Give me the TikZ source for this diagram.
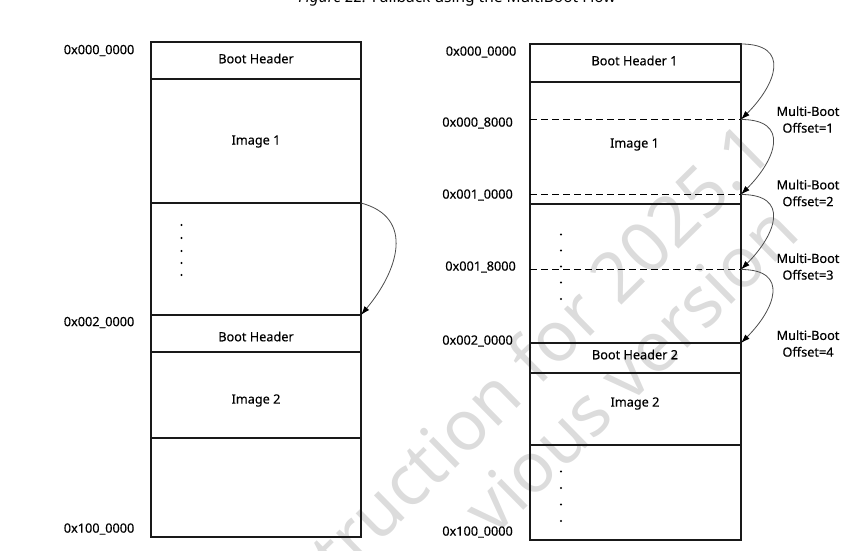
\documentclass[tikz,border=0pt]{standalone}
\usepackage{fontspec}
\setmainfont{Noto Sans}
\newfontfamily\lblfont{Noto Sans}[FakeBold=0.4]
\usetikzlibrary{arrows.meta}
\definecolor{wm}{HTML}{DCDCDC}
\tikzset{
  row/.style={draw=black!90, line width=1.5pt, minimum width=#1, inner sep=0pt, outer sep=0pt, anchor=north west},
  lbl/.style={font=\lblfont\fontsize{12.7}{16.7}\selectfont, inner sep=0pt, align=center},
  addr/.style={lbl, anchor=east},
  jump/.style={draw=black!70, line width=0.8pt, -{Latex[length=9pt,width=6pt,black]}},
  sepline/.style={line width=1.5pt, dash pattern=on 7pt off 4pt},
  wmark/.style={text=wm, font=\fontsize{70}{74}\selectfont, rotate=44.5, inner sep=0pt, anchor=base east}
}
\begin{document}
\begin{tikzpicture}[x=1pt, y=-1pt]
\useasboundingbox (0,0) rectangle (865,551);
% watermark
\node[wmark] (wm1) at (776,154) {truction for 2025.1};
\node[wmark] (wm2) at (802,236) {vious version};
% title (cut off at top)
\node[font=\fontsize{15.5}{18}\selectfont, anchor=base, inner sep=0pt] (title) at (457,3) {\textit{Figure 22:} \textbf{Fallback using the MultiBoot Flow}};

% ---------- left column ----------
\node[row=210pt, minimum height=37pt] (L1) at (151,42) {};
\node[row=210pt, minimum height=124pt] (L2) at (151,79) {};
\node[row=210pt, minimum height=112pt] (L3) at (151,203) {};
\node[row=210pt, minimum height=37pt] (L4) at (151,315) {};
\node[row=210pt, minimum height=86pt] (L5) at (151,352) {};
\node[row=210pt, minimum height=99pt] (L6) at (151,438) {};
\node[lbl] (tL1) at (256,58.5) {Boot Header};
\node[lbl] (tL2) at (256,141.5) {Image 1};
\node[lbl] (tL4) at (256,336.5) {Boot Header};
\node[lbl] (tL5) at (256,400.5) {Image 2};
\foreach \yy in {225,238,251,263,275} \fill (181.5,\yy) circle (1.1pt);
\node[addr] (aL1) at (134.5,50.5) {0x000\_0000};
\node[addr] (aL4) at (134.5,322.5) {0x002\_0000};
\node[addr] (aL6) at (134.5,529) {0x100\_0000};
\draw[jump] (L3.north east) to[out=-15, in=50, looseness=1.3] (L4.north east);

% ---------- right column ----------
\node[row=211pt, minimum height=38pt] (R1) at (530,44) {};
\node[row=211pt, minimum height=122pt] (R2) at (530,82) {};
\node[row=211pt, minimum height=139pt] (R3) at (530,204) {};
\node[row=211pt, minimum height=30pt] (R4) at (530,343) {};
\node[row=211pt, minimum height=72pt] (R5) at (530,373) {};
\node[row=211pt, minimum height=95pt] (R6) at (530,445) {};
\coordinate (d1l) at (530,119.5); \coordinate (d1r) at (741,119.5);
\coordinate (d2l) at (530,194.5); \coordinate (d2r) at (741,194.5);
\coordinate (d3l) at (530,269.5); \coordinate (d3r) at (741,269.5);
\draw[sepline] (d1l) -- (d1r);
\draw[sepline] (d2l) -- (d2r);
\draw[sepline] (d3l) -- (d3r);
\node[lbl] (tR1) at (634.5,60.5) {Boot Header 1};
\node[lbl] (tR2) at (634.5,144.5) {Image 1};
\node[lbl] (tR4) at (635,354.5) {Boot Header 2};
\node[lbl] (tR5) at (635,403.5) {Image 2};
\foreach \yy in {234.5,250.5,266.5,282.5,299} \fill (561,\yy) circle (1.1pt);
\foreach \yy in {471.5,488,504.5,521} \fill (561,\yy) circle (1.1pt);
\node[addr] (aR1) at (516.5,52) {0x000\_0000};
\node[addr] (aR2) at (513,123) {0x000\_8000};
\node[addr] (aR3) at (513,195) {0x001\_0000};
\node[addr] (aR4) at (516,267) {0x001\_8000};
\node[addr] (aR5) at (513,341) {0x002\_0000};
\node[addr] (aR6) at (513,532) {0x100\_0000};
\draw[jump] (R1.north east) to[out=0, in=45, looseness=1.7] (d1r);
\draw[jump] (d1r) to[out=0, in=45, looseness=1.7] (d2r);
\draw[jump] (d2r) to[out=0, in=45, looseness=1.7] (d3r);
\draw[jump] (d3r) to[out=0, in=45, looseness=1.7] (R4.north east);
\node[lbl] (o1) at (808,119.5) {Multi-Boot\\Offset=1};
\node[lbl] (o2) at (808,193) {Multi-Boot\\Offset=2};
\node[lbl] (o3) at (808,266.5) {Multi-Boot\\Offset=3};
\node[lbl] (o4) at (808,343.5) {Multi-Boot\\Offset=4};
\end{tikzpicture}
\end{document}
